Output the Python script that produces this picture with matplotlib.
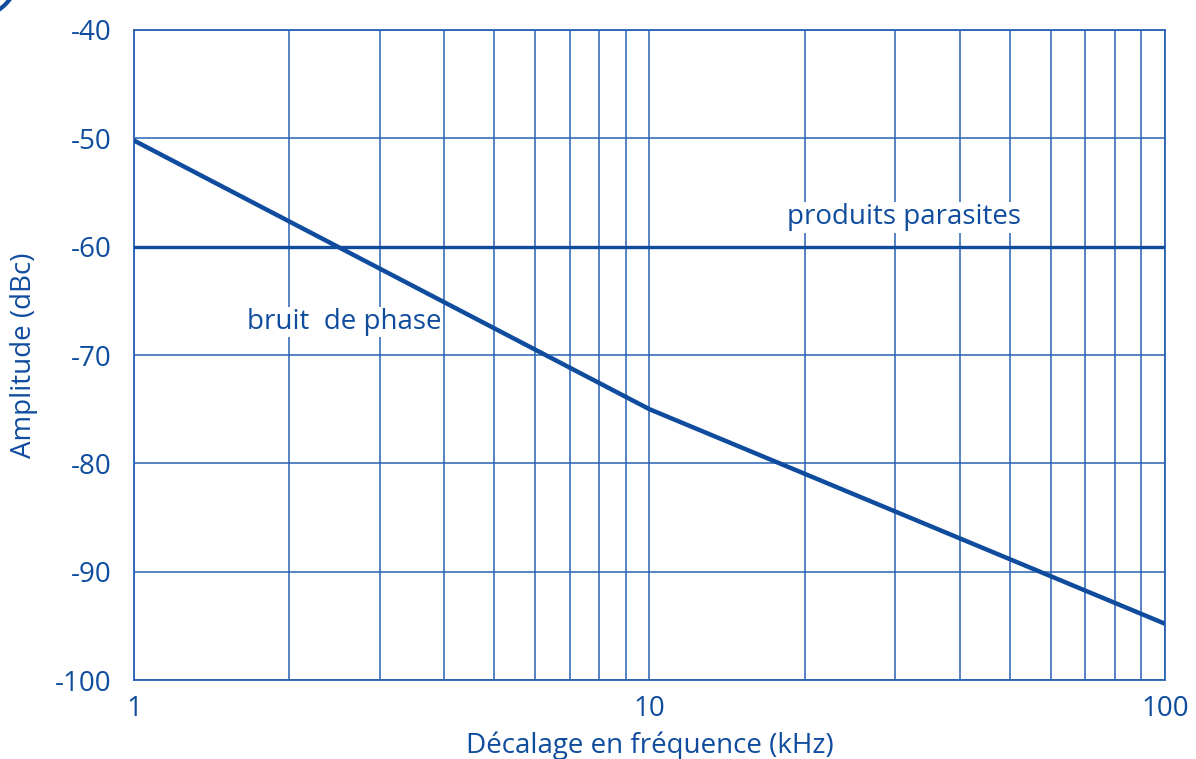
import matplotlib
matplotlib.use("Agg")
import matplotlib.pyplot as plt
from matplotlib.patches import Arc

plt.rcParams['font.family'] = ['Open Sans', 'DejaVu Sans']
plt.rcParams['axes.unicode_minus'] = False

# phase noise curve (kHz, dBc)
freq_khz = [1, 10, 100]
phase_noise = [-50.2, -75.0, -94.8]
# spurious products level
spur_level = -60

blue = '#0f4c9e'
grid_blue = '#2a62b4'

fig = plt.figure(figsize=(11.96, 7.59), dpi=100)
ax = fig.add_axes([0.112, 0.104, 0.862, 0.8565])

ax.set_xscale('log')
ax.set_xlim(1, 100)
ax.set_ylim(-100, -40)

ax.plot(freq_khz, phase_noise, color=blue, linewidth=3.2, solid_capstyle='butt', zorder=3)
ax.axhline(spur_level, color=blue, linewidth=2.4, zorder=3)

ax.set_yticks(range(-100, -39, 10))
ax.set_xticks([1, 10, 100])
ax.set_xticklabels(['1', '10', '100'])
ax.grid(True, which='both', axis='x', color=grid_blue, linewidth=1.1)
ax.grid(True, which='major', axis='y', color=grid_blue, linewidth=1.1)
ax.tick_params(which='both', length=0, labelsize=20, colors=blue)
ax.tick_params(axis='y', pad=16)
ax.tick_params(axis='x', pad=11)
for s in ax.spines.values():
    s.set_color(grid_blue)
    s.set_linewidth(1.3)

ax.set_xlabel('Décalage en fréquence (kHz)', fontsize=20, color=blue, labelpad=6)
ax.set_ylabel('Amplitude (dBc)', fontsize=20, color=blue, labelpad=12)

ax.text(1.66, -66.95, 'bruit  de phase', fontsize=20, color=blue, zorder=4, va='center',
        bbox=dict(facecolor='white', edgecolor='none', pad=1))
ax.text(18.5, -57.3, 'produits parasites', fontsize=20, color=blue, zorder=4, va='center',
        bbox=dict(facecolor='white', edgecolor='none', pad=1))

# small decorative arc at top-left corner
fig.patches.append(Arc((-30, 790), 100, 100, theta1=270, theta2=360,
                       transform=None, color=blue, linewidth=3, figure=fig))

fig.savefig('out.png', dpi=100)
